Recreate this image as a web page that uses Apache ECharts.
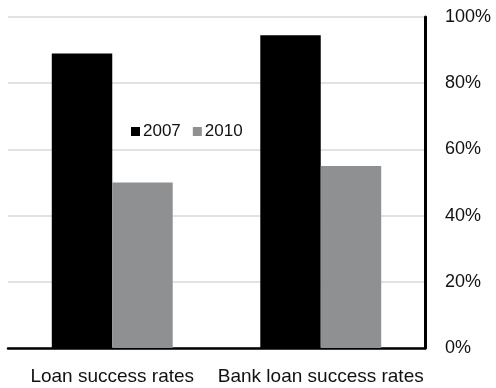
<!DOCTYPE html>
<html>
<head>
<meta charset="utf-8">
<script src="https://cdn.jsdelivr.net/npm/echarts@6/dist/echarts.min.js"></script>
<style>html,body{margin:0;padding:0;background:#fff}#c{width:496px;height:388px}</style>
</head>
<body>
<div id="c"></div>
<script>
var categories = ['Loan success rates', 'Bank loan success rates'];
var seriesNames = ['2007', '2010'];
var values2007 = [89, 94.5];
var values2010 = [50, 55];
var yTicks = [0, 20, 40, 60, 80, 100];

var font = 'Liberation Sans, Arial, sans-serif';
var chart = echarts.init(document.getElementById('c'), null, {renderer: 'canvas'});
chart.setOption({
  animation: false,
  backgroundColor: '#fff',
  grid: {left: 8, right: 71, top: 17, bottom: 40, containLabel: false},
  legend: {
    left: 126, top: 118,
    itemWidth: 9, itemHeight: 9, itemGap: 12,
    icon: 'rect',
    textStyle: {fontFamily: font, fontSize: 17, color: '#111', padding: [0, 0, 0, -2]},
    data: seriesNames
  },
  xAxis: {
    type: 'category',
    data: categories,
    axisLine: {lineStyle: {color: '#000', width: 2.5}},
    axisTick: {show: false},
    axisLabel: {fontFamily: font, fontSize: 19, color: '#111', margin: 19, interval: 0}
  },
  yAxis: {
    type: 'value',
    position: 'right',
    min: yTicks[0], max: yTicks[yTicks.length - 1], interval: 20,
    axisLine: {show: true, lineStyle: {color: '#000', width: 3}},
    axisTick: {show: false},
    axisLabel: {fontFamily: font, fontSize: 18, color: '#111', margin: 20, formatter: '{value}%'},
    splitLine: {lineStyle: {color: '#e2e2e2', width: 2}}
  },
  series: [
    {name: seriesNames[0], type: 'bar', data: values2007, barGap: '0%', barCategoryGap: '42%',
     itemStyle: {color: '#000'}},
    {name: seriesNames[1], type: 'bar', data: values2010, barGap: '0%', barCategoryGap: '42%',
     itemStyle: {color: '#8f9091'}}
  ]
});
</script>
</body>
</html>
